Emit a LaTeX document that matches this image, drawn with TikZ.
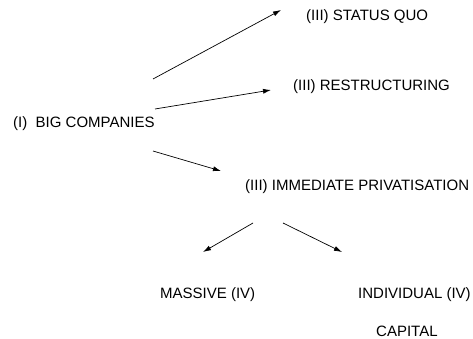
\documentclass[tikz,border=0pt]{standalone}
\usepackage{fontspec}
\setmainfont{Liberation Sans}
\usetikzlibrary{arrows.meta}
\begin{document}
\begin{tikzpicture}[x=1pt,y=-1pt,
  lbl/.style={inner sep=0pt,anchor=west,font=\fontsize{15}{17}\selectfont},
  arr/.style={line width=0.7pt,-{Latex[length=8pt,width=5pt]}}]
\useasboundingbox (0,0) rectangle (473,339);
\node[lbl] (sq) at (306,17) {(III) STATUS QUO};
\node[lbl] (rs) at (293,87) {(III) RESTRUCTURING};
\node[lbl] (bc) at (13,124) {(I)\ \ BIG COMPANIES};
\node[lbl] (ip) at (245,187) {(III) IMMEDIATE PRIVATISATION};
\node[lbl] (ms) at (160,295) {MASSIVE (IV)};
\node[lbl] (in) at (358,295) {INDIVIDUAL (IV)};
\node[lbl] (cp) at (376,331) {CAPITAL};
\coordinate (a1s) at (153,79);  \coordinate (a1e) at (281,10);
\coordinate (a2s) at (155,109); \coordinate (a2e) at (271,90);
\coordinate (a3s) at (153,151); \coordinate (a3e) at (221,171);
\coordinate (a4s) at (253,223); \coordinate (a4e) at (203,252);
\coordinate (a5s) at (283,223); \coordinate (a5e) at (342,252);
\draw[arr] (a1s) -- (a1e);
\draw[arr] (a2s) -- (a2e);
\draw[arr] (a3s) -- (a3e);
\draw[arr] (a4s) -- (a4e);
\draw[arr] (a5s) -- (a5e);
\end{tikzpicture}
\end{document}
